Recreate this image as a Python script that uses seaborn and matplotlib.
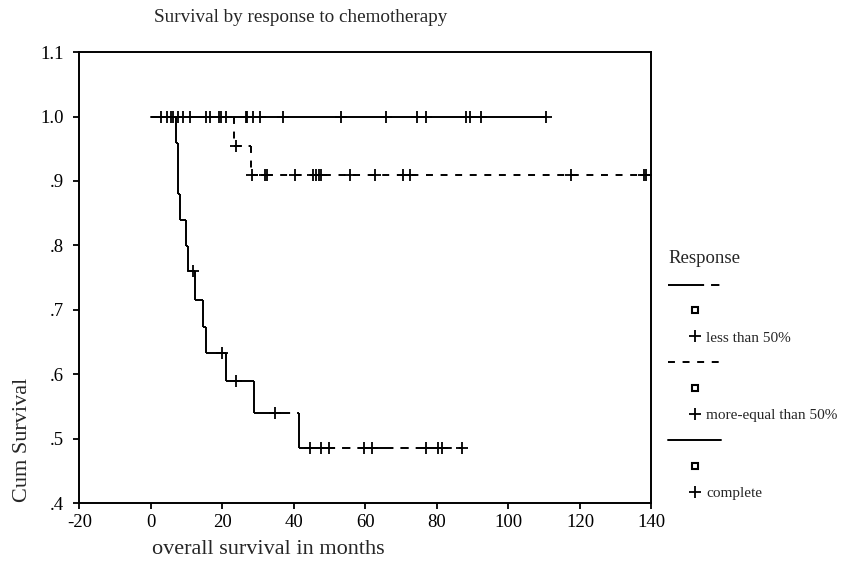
import numpy as np
import pandas as pd
import seaborn as sns
import matplotlib.pyplot as plt
from matplotlib.lines import Line2D

# Estilo base de seaborn, luego la fuente (set_style reinicia font.family)
sns.set_style('ticks')
plt.rcParams['font.family'] = ['Liberation Serif', 'DejaVu Serif']
plt.rcParams['lines.scale_dashes'] = False
plt.rcParams['axes.unicode_minus'] = False

titulo = 'Survival by response to chemotherapy'
titulo_leyenda = 'Response'
grupos = ['less than 50%', 'more-equal than 50%', 'complete']

# Caídas de cada curva (meses) y supervivencia acumulada después de la caída
eventos_menos = [7.1, 7.6, 7.65, 8.0, 9.9, 10.5, 12.2, 14.5, 15.5, 21.1, 28.7, 41.4]
superv_menos = [0.959, 0.919, 0.879, 0.840, 0.799, 0.761, 0.716, 0.674, 0.633,
                0.589, 0.540, 0.486]
censura_menos = [11.9, 20.0, 23.7, 34.6, 44.6, 47.7, 49.8, 59.5, 61.9, 76.8, 80.3, 81.4, 87.0]

eventos_mayor = [23.1, 28.1]
superv_mayor = [0.955, 0.909]
censura_mayor = [23.9, 28.2, 32.0, 32.6, 40.2, 45.4, 46.1, 46.9, 47.6, 55.6,
                 62.6, 70.5, 72.5, 117.6, 137.8, 138.6]

eventos_completa = []
superv_completa = []
censura_completa = [2.8, 4.6, 5.5, 6.2, 7.6, 9.0, 11.0, 15.5, 16.4, 19.0, 19.6,
                    21.0, 26.6, 27.0, 28.6, 30.4, 36.9, 53.2, 65.8, 74.5, 77.0,
                    88.2, 89.2, 92.2, 110.4]

xticks = [-20, 0, 20, 40, 60, 80, 100, 120, 140]
yticks = [0.4, 0.5, 0.6, 0.7, 0.8, 0.9, 1.0, 1.1]
ytick_labels = ['.4', '.5', '.6', '.7', '.8', '.9', '1.0', '1.1']

# Estilo de línea de cada grupo (guiones en puntos)
estilos = {
    'less than 50%': (0, (26, 5, 6, 5)),
    'more-equal than 50%': (0, (5, 5.5)),
    'complete': '-',
}

datos = {
    'less than 50%': (eventos_menos, superv_menos, censura_menos),
    'more-equal than 50%': (eventos_mayor, superv_mayor, censura_mayor),
    'complete': (eventos_completa, superv_completa, censura_completa),
}


def tramos(eventos, superv, fin):
    """Convierte la función escalón en tramos horizontales y verticales
    separados (como SPSS), para que el patrón de guiones empiece en cada uno."""
    t = [0] + eventos + [fin]
    s = [1.0] + superv
    filas = []
    k = 0
    for i in range(len(s)):
        filas += [(k, t[i], s[i]), (k, t[i + 1], s[i])]
        k += 1
        if i + 1 < len(s):
            filas += [(k, t[i + 1], s[i]), (k, t[i + 1], s[i + 1])]
            k += 1
    return pd.DataFrame(filas, columns=['tramo', 'meses', 'superv'])


fig = plt.figure(figsize=(8.45, 5.66), dpi=100)
ax = fig.add_axes([0.094, 0.111, 0.677, 0.797])

for g in grupos:
    eventos, superv, censura = datos[g]
    curva = tramos(eventos, superv, max(censura + eventos))
    sns.lineplot(data=curva, x='meses', y='superv', units='tramo', ax=ax,
                 color='black', estimator=None, sort=False,
                 linewidth=1.4, linestyle=estilos[g])
    idx = np.searchsorted(np.array(eventos), np.array(censura), side='right')
    niveles = np.array([1.0] + superv)[idx]
    marcas = pd.DataFrame({'meses': censura, 'superv': niveles})
    sns.scatterplot(data=marcas, x='meses', y='superv', ax=ax, marker='+',
                    s=80, color='black', linewidth=1.3, legend=False, zorder=3)

ax.set_xlim(-20, 140)
ax.set_ylim(0.4, 1.1)
ax.set_xticks(xticks)
ax.set_yticks(yticks, labels=ytick_labels)
ax.tick_params(axis='both', labelsize=13.5, length=4, width=1.3, color='black',
               labelcolor='black')
ax.tick_params(axis='y', pad=7)
for s in ax.spines.values():
    s.set_visible(True)
    s.set_linewidth(1.4)
    s.set_color('black')

ax.set_xlabel('overall survival in months', fontsize=16, ha='left', va='center')
ax.xaxis.set_label_coords(0.127, -0.103)
ax.set_ylabel('Cum Survival', fontsize=16, va='center')
ax.yaxis.set_label_coords(-0.10, 0.141)

fig.text(154 / 845, 1 - 18 / 566, titulo, fontsize=13.8, ha='left', va='center')

# Leyenda al estilo SPSS: línea, cuadro y cruz por cada grupo
handles, labels = [], []
for g in grupos:
    handles.append(Line2D([], [], color='black', lw=1.4, linestyle=estilos[g]))
    labels.append('')
    handles.append(Line2D([], [], color='black', marker='s', ms=5, mfc='none',
                          mew=1.5, linestyle='none'))
    labels.append('')
    handles.append(Line2D([], [], color='black', marker='+', ms=9, mew=1.3,
                          linestyle='none'))
    labels.append(g)

leg = ax.legend(handles, labels, loc='upper left', bbox_to_anchor=(668 / 845, 1 - 250 / 566),
                bbox_transform=fig.transFigure, frameon=False, title=titulo_leyenda,
                alignment='left', fontsize=11, title_fontsize=13.5, handlelength=3.5,
                handletextpad=-1.0, labelspacing=0.8, borderpad=0, borderaxespad=0)

fig.savefig('out.png', dpi=100)
